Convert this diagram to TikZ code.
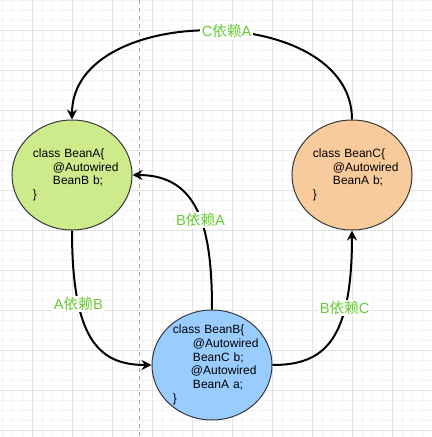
\documentclass[tikz,border=0pt]{standalone}
\usepackage{fontspec}
\setmainfont{Liberation Sans}
\newfontfamily\cjk{Noto Sans CJK SC}
\usetikzlibrary{arrows.meta,shapes.geometric}

\definecolor{beanA}{HTML}{CDEB8B}
\definecolor{beanB}{HTML}{99CCFF}
\definecolor{beanC}{HTML}{F9CB9C}
\definecolor{edgegray}{HTML}{36393D}
\definecolor{labelgreen}{HTML}{66CC33}
\definecolor{gridmajor}{HTML}{E2E2E2}
\definecolor{gridminor}{HTML}{F3F3F3}

\newcommand{\dep}[3]{#1{\cjk #2}#3} % latin letter, chinese word, latin letter
\newcommand{\ind}{\hspace*{23.75pt}} % indent of a field line
\newcommand{\lft}{\hspace*{8.75pt}}  % indent of the class line

\begin{document}
\begin{tikzpicture}[
    x = 0.75pt, y = -0.75pt, % one unit = one pixel, y goes down
    bean/.style = {ellipse, draw = edgegray, line width = 0.75pt,
        minimum width = 90pt, minimum height = 82.5pt,
        inner xsep = -6.5pt, inner ysep = -1.5pt,
        text width = 76pt, align = left,
        font = \fontsize{9pt}{10.3pt}\selectfont},
    dep/.style = {-{Stealth[length = 7.5pt, width = 7.5pt, inset = 2.5pt]},
        line width = 1.5pt},
    lbl/.style = {fill = white, text = labelgreen, inner sep = 1pt,
        font = \fontsize{11pt}{13pt}\selectfont}
    ]

    \useasboundingbox (0,0) rectangle (432,437);
    \fill[white] (0,0) rectangle (432,437);

    % background grid
    \foreach \x in {2.3,12.3,...,432} \draw[gridminor, line width = 0.75pt] (\x,0) -- (\x,437);
    \foreach \y in {0.7,10.7,...,437} \draw[gridminor, line width = 0.75pt] (0,\y) -- (432,\y);
    \foreach \x in {32.3,72.3,...,432} \draw[gridmajor, line width = 0.75pt] (\x,0) -- (\x,437);
    \foreach \y in {30.7,70.7,...,437} \draw[gridmajor, line width = 0.75pt] (0,\y) -- (432,\y);
    \draw[black!35, line width = 0.75pt, dash pattern = on 3pt off 3pt] (139.3,0) -- (139.3,437);

    \node[bean, fill = beanA] (A) at (72,175)
        {\lft class BeanA\{\\ \ind @Autowired\\ \ind BeanB b;\\ \lft\}};
    \node[bean, fill = beanC] (C) at (352,175)
        {\lft class BeanC\{\\ \ind @Autowired\\ \ind BeanA b;\\ \lft\}};
    \node[bean, fill = beanB] (B) at (212,365)
        {\lft class BeanB\{\\ \ind @Autowired\\ \ind BeanC b;\\
         \hspace*{22.25pt}@Autowired\\ \ind BeanA a;\\ \lft\}};

    \draw[dep] (C.north) .. controls +(0,-118) and +(0,-118) .. (A.north)
        node[lbl, pos = 0.465] {\dep{C}{依赖}{A}};
    \draw[dep] (B.north) .. controls +(0,-80) and +(67,0) .. (A.east)
        node[lbl, pos = 0.45] {\dep{B}{依赖}{A}};
    \draw[dep] (A.south) .. controls +(0,110) and +(-52,0) .. (B.west)
        node[lbl, pos = 0.28] {\dep{A}{依赖}{B}};
    \draw[dep] (B.east) .. controls +(52,0) and +(0,110) .. (C.south)
        node[lbl, pos = 0.7] {\dep{B}{依赖}{C}};
\end{tikzpicture}
\end{document}
